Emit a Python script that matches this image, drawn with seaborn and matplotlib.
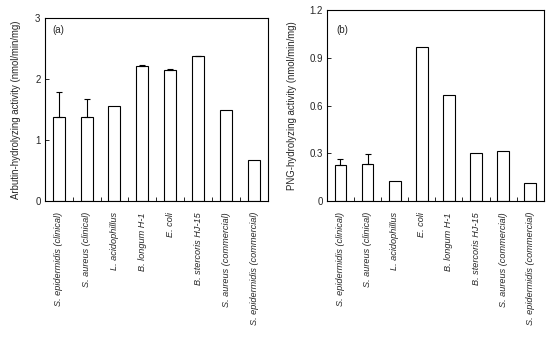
import matplotlib
matplotlib.use("Agg")
import matplotlib.pyplot as plt
from matplotlib import font_manager as fm
import seaborn as sns
import numpy as np
import pandas as pd

cats_a = ["S. epidermidis (clinical)", "S. aureus (clinical)", "L. acidophillus",
          "B. longum H-1", "E. coli", "B. stercoris HJ-15",
          "S. aureus (commercial)", "S. epidermidis (commercial)"]
vals_a = [1.38, 1.38, 1.56, 2.22, 2.15, 2.37, 1.49, 0.67]
errs_a = [0.40, 0.29, 0.0, 0.01, 0.01, 0.01, 0.0, 0.0]

cats_b = ["S. epidermidis (clinical)", "S. aureus (clinical)", "L. acidophillus",
          "E. coli", "B. longum H-1", "B. stercoris HJ-15",
          "S. aureus (commercial)", "S. epidermidis (commercial)"]
vals_b = [0.228, 0.234, 0.123, 0.972, 0.665, 0.300, 0.313, 0.115]
errs_b = [0.036, 0.062, 0.0, 0.0, 0.0, 0.0, 0.0, 0.0]

ylabel_a = "Arbutin-hydrolyzing activity (nmol/min/mg)"
ylabel_b = "PNG-hydrolyzing activity (nmol/min/mg)"
yticks_a = [0, 1, 2, 3]
yticks_b = [0, 0.3, 0.6, 0.9, 1.2]
yticklabels_b = ["0", "0.3", "0.6", "0.9", "1.2"]

# avoid accidental matching of the condensed (Narrow) variant
fm.fontManager.ttflist = [f for f in fm.fontManager.ttflist
                          if "narrow" not in f.fname.lower() and "narrow" not in f.name.lower()]
try:
    fm.fontManager._findfont_cached.cache_clear()
except Exception:
    pass

sns.set_style("white")
plt.rcParams['font.family'] = ['Liberation Sans', 'DejaVu Sans']
plt.rcParams['font.stretch'] = 'normal'

fig = plt.figure(figsize=(5.54, 3.43), dpi=100)
ax1 = fig.add_axes([0.0807, 0.414, 0.403, 0.5335])
ax2 = fig.add_axes([0.590, 0.414, 0.3917, 0.5554])


def draw(ax, cats, vals, errs, ylim, yticks, yticklabels, ylabel, tag, tagpos, lpad):
    df = pd.DataFrame({"cat": cats, "val": vals})
    sns.barplot(data=df, x="cat", y="val", ax=ax, color="white", edgecolor="black",
                linewidth=0.8, width=0.43, errorbar=None, saturation=1)
    x = np.arange(len(cats))
    errs = np.array(errs)
    mask = errs > 0
    ax.errorbar(x[mask], np.array(vals)[mask], yerr=[np.zeros(mask.sum()), errs[mask]],
                fmt="none", ecolor="black", elinewidth=0.8, capsize=2.5, capthick=0.8)
    ax.set_xlim(-0.5, len(cats) - 0.5)
    ax.set_ylim(*ylim)
    ax.set_yticks(yticks)
    ax.set_yticklabels(yticklabels, fontsize=7)
    ax.set_xticks(x)
    ax.set_xticklabels(cats, rotation=90, fontsize=6.6, style="italic")
    ax.set_xticks(x[:-1] + 0.5, minor=True)
    ax.tick_params(axis="x", which="major", length=0, pad=8)
    ax.tick_params(axis="x", which="minor", direction="in", length=3, width=0.7, bottom=True)
    ax.tick_params(axis="y", which="major", direction="in", length=3, width=0.7, left=True, pad=3)
    ax.set_xlabel("")
    ax.set_ylabel(ylabel, fontsize=6.9, labelpad=lpad)
    for s in ax.spines.values():
        s.set_color("black")
        s.set_linewidth(0.8)
    ax.text(tagpos[0], tagpos[1], tag, transform=ax.transAxes, fontsize=7,
            ha="left", va="center")


draw(ax1, cats_a, vals_a, errs_a, (0, 3), yticks_a, [str(t) for t in yticks_a],
     ylabel_a, "(a)", (0.033, 0.934), 10)
draw(ax2, cats_b, vals_b, errs_b, (0, 1.2), yticks_b, yticklabels_b,
     ylabel_b, "(b)", (0.043, 0.898), 9)

fig.savefig("out.png", dpi=100)
